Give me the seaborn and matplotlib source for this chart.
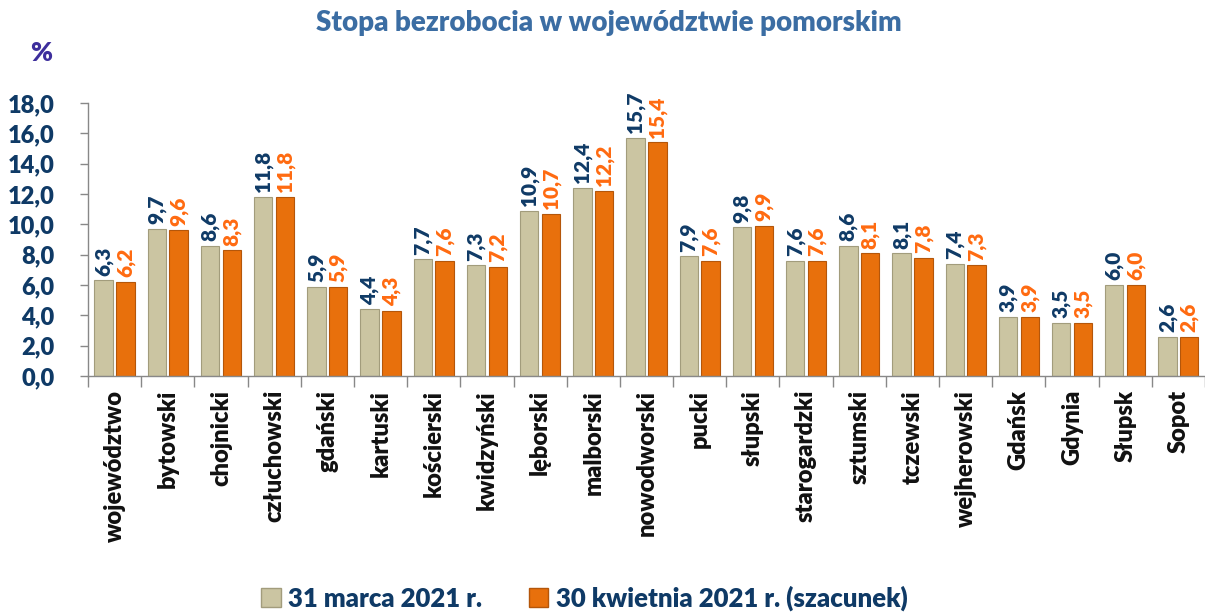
import matplotlib
matplotlib.use("Agg")
import matplotlib.pyplot as plt
import seaborn as sns
import pandas as pd
import numpy as np
from matplotlib.patches import Patch

categories = ["województwo", "bytowski", "chojnicki", "człuchowski", "gdański", "kartuski",
              "kościerski", "kwidzyński", "lęborski", "malborski", "nowodworski", "pucki",
              "słupski", "starogardzki", "sztumski", "tczewski", "wejherowski", "Gdańsk",
              "Gdynia", "Słupsk", "Sopot"]
march = [6.3, 9.7, 8.6, 11.8, 5.9, 4.4, 7.7, 7.3, 10.9, 12.4, 15.7, 7.9, 9.8, 7.6, 8.6, 8.1, 7.4, 3.9, 3.5, 6.0, 2.6]
april = [6.2, 9.6, 8.3, 11.8, 5.9, 4.3, 7.6, 7.2, 10.7, 12.2, 15.4, 7.6, 9.9, 7.6, 8.1, 7.8, 7.3, 3.9, 3.5, 6.0, 2.6]
series = ["31 marca 2021 r.", "30 kwietnia 2021 r. (szacunek)"]
yticks = [0, 2, 4, 6, 8, 10, 12, 14, 16, 18]

sns.set_theme(style="white")
plt.rcParams['font.family'] = ['Lato', 'DejaVu Sans']
W = "heavy"

df = pd.DataFrame({
    "cat": categories * 2,
    "val": march + april,
    "ser": [series[0]] * len(categories) + [series[1]] * len(categories),
})

fill_colors = ["#CBC5A2", "#E8700C"]
edge_colors = ["#A29C7C", "#B4560A"]
label_colors = ["#0F3A66", "#FF6A10"]

fig = plt.figure(figsize=(12.05, 6.13), dpi=100)
ax = fig.add_axes([0.073, 0.3866, 0.927, 0.4454])

sns.barplot(data=df, x="cat", y="val", hue="ser", palette=fill_colors, saturation=1,
            width=0.82, gap=0.16, ax=ax, legend=False)

for ci, cont in enumerate(ax.containers):
    for bar in cont:
        bar.set_edgecolor(edge_colors[ci])
        bar.set_linewidth(0.8)
    vals = march if ci == 0 else april
    for bar, v in zip(cont, vals):
        cx = bar.get_x() + bar.get_width() / 2
        ax.text(cx, bar.get_height() + 0.3, f"{v:.1f}".replace(".", ","),
                rotation=90, ha="center", va="bottom", fontsize=15, fontweight=W,
                color=label_colors[ci], clip_on=False)

ax.set_ylim(0, 18)
ax.set_xlim(-0.5, len(categories) - 0.5)
ax.set_yticks(yticks)
ax.set_yticklabels([f"{t:.1f}".replace(".", ",") for t in yticks],
                   fontsize=17, fontweight=W, color="#0F3A66")
ax.set_xticks(range(len(categories)))
ax.set_xticklabels(categories, rotation=90, fontsize=17, fontweight=W, color="#111111")
ax.set_xticks(np.arange(-0.5, len(categories), 1), minor=True)
ax.tick_params(axis="x", which="major", length=0, pad=10)
ax.tick_params(axis="x", which="minor", length=8, color="#888888", width=1, bottom=True)
ax.tick_params(axis="y", which="major", length=6, color="#888888", width=1, left=True, pad=18)
ax.set_xlabel("")
ax.set_ylabel("")

for s in ["top", "right"]:
    ax.spines[s].set_visible(False)
for s in ["left", "bottom"]:
    ax.spines[s].set_color("#888888")
    ax.spines[s].set_linewidth(1)

fig.text(0.505, 0.962, "Stopa bezrobocia w województwie pomorskim", ha="center", va="center",
         fontsize=20, fontweight=W, color="#3B6DA3")
fig.text(0.034, 0.913, "%", ha="center", va="center", fontsize=19, fontweight=W, color="#3D2E9C")

handles = [Patch(facecolor=fill_colors[i], edgecolor=edge_colors[i], label=series[i]) for i in range(2)]
fig.legend(handles=handles, loc="center", bbox_to_anchor=(0.485, 0.024), ncol=2, frameon=False,
           prop={"size": 18.5, "weight": W}, handlelength=0.75, handleheight=0.75,
           handletextpad=0.3, columnspacing=1.8, labelcolor="#0F3A66")

fig.savefig("out.png", dpi=100)
